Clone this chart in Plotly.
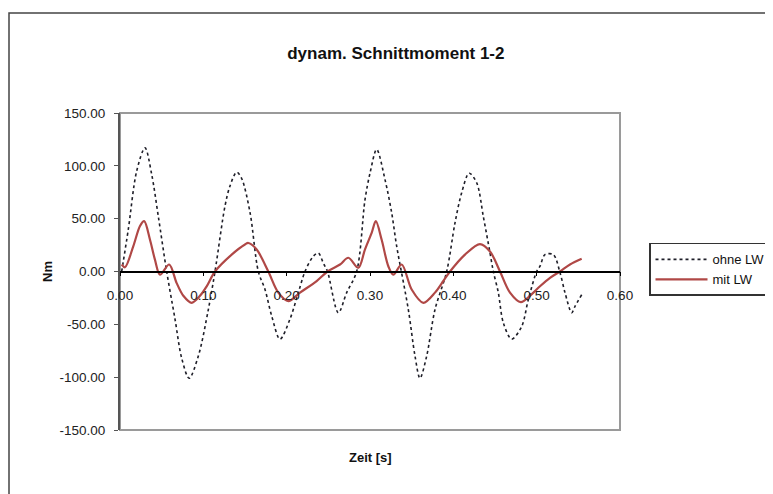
import plotly.graph_objects as go

# ---- data ----
t_ohne = [0.002, 0.010, 0.020, 0.030, 0.038, 0.046, 0.056, 0.066, 0.074, 0.083,
          0.094, 0.106, 0.114, 0.126, 0.132, 0.140, 0.146, 0.156, 0.166, 0.174,
          0.182, 0.192, 0.204, 0.214, 0.222, 0.232, 0.238, 0.244, 0.249, 0.262,
          0.272, 0.284, 0.294, 0.300, 0.308, 0.318, 0.326, 0.332, 0.346,
          0.354, 0.360, 0.368, 0.378, 0.392, 0.402, 0.410, 0.419, 0.428, 0.436,
          0.444, 0.448, 0.454, 0.460, 0.470, 0.482, 0.490, 0.500, 0.504, 0.510,
          0.520, 0.528, 0.534, 0.542, 0.546, 0.554]
ohne_lw = [0, 40, 95, 117, 92, 52, 0, -45, -82, -101,
           -80, -36, 0, 62, 81, 94, 88, 56, 0, -17,
           -42, -64, -45, -20, 0, 14.5, 17.5, 8, 0, -39,
           -20, 0, 68, 93, 115.5, 87, 55.6, 24, -36,
           -80, -101, -80, -36, 0, 46, 74.5, 93, 84, 52,
           17.7, 0, -20, -48.6, -64, -52, -26.5, 0, 5, 16,
           16, -1, -20, -39, -33, -22]

t_mit = [0.002, 0.006, 0.016, 0.024, 0.029, 0.036, 0.042, 0.048, 0.059, 0.068,
         0.076, 0.086, 0.096, 0.104, 0.114, 0.134, 0.150, 0.154, 0.164, 0.178,
         0.190, 0.202, 0.216, 0.236, 0.249, 0.264, 0.274, 0.286, 0.294, 0.302,
         0.307, 0.314, 0.322, 0.328, 0.338, 0.350, 0.364, 0.378, 0.388, 0.396,
         0.414, 0.432, 0.444, 0.456, 0.468, 0.481, 0.492, 0.504, 0.516, 0.528,
         0.540, 0.554]
mit_lw = [6.6, 4, 24, 43, 47.6, 30, 11, -3, 6.6, -11,
          -23, -29.6, -23, -14, 0, 16, 25.6, 27, 20.8, 0,
          -20, -28, -20, -9, 0, 6.6, 13, 3.5, 21, 36.6,
          47.6, 30, 5, -3, 6.6, -17, -29.6, -20, -9, 0,
          16, 26, 19, 0, -20, -29, -23, -14, -6, 0,
          6.6, 12]

x_tick_vals = [0.0, 0.1, 0.2, 0.3, 0.4, 0.5, 0.6]
x_tick_text = ["0.00", "0.10", "0.20", "0.30", "0.40", "0.50", "0.60"]
y_tick_vals = [150, 100, 50, 0, -50, -100, -150]
y_tick_text = ["150.00", "100.00", "50.00", "0.00", "-50.00", "-100.00", "-150.00"]

FONT = "Liberation Sans, Arial, sans-serif"

fig = go.Figure()
fig.add_trace(go.Scatter(
    x=t_ohne, y=ohne_lw, name="ohne LW", mode="lines",
    line=dict(color="#1e1e28", width=1.6, dash="dot", shape="spline", smoothing=0.9),
    legendgroup="a"))
fig.add_trace(go.Scatter(
    x=t_mit, y=mit_lw, name="mit LW", mode="lines",
    line=dict(color="#b04846", width=2.2, shape="spline", smoothing=0.9),
    legendgroup="b"))

fig.update_layout(
    width=765, height=486,
    margin=dict(l=112, r=153, t=105, b=64, autoexpand=False),
    paper_bgcolor="white", plot_bgcolor="white",
    font=dict(family=FONT, size=13, color="#222"),
    title=dict(text="<b>dynam. Schnittmoment 1-2</b>", x=0.507, xanchor="center",
               y=1 - 45 / 486, yanchor="middle",
               font=dict(family=FONT, size=17, color="#111")),
    xaxis=dict(range=[0, 0.6], tickvals=x_tick_vals, ticktext=x_tick_text,
               anchor="free", position=0.5, showline=True, linecolor="black",
               linewidth=1.5, ticks="outside", ticklen=4, tickcolor="black",
               tickwidth=1.2, showgrid=False, zeroline=False, automargin=False,
               ticklabelstandoff=8,
               tickfont=dict(family=FONT, size=13.5, color="#222")),
    xaxis2=dict(range=[0, 0.6], tickvals=x_tick_vals, overlaying="x",
                anchor="free", position=0.5, showline=False, ticks="inside",
                ticklen=4, tickcolor="black", tickwidth=1.2, automargin=False,
                showticklabels=False, showgrid=False, zeroline=False),
    yaxis=dict(range=[-150, 150], tickvals=y_tick_vals, ticktext=y_tick_text,
               showline=True, linecolor="#555", linewidth=2, ticks="outside",
               ticklen=4, tickcolor="#555", showgrid=False, zeroline=False,
               ticklabelstandoff=6, automargin=False,
               tickfont=dict(family=FONT, size=13.5, color="#222"),
               title=dict(text="<b>Nm</b>", standoff=4,
                          font=dict(family=FONT, size=13, color="#111"))),
    legend=dict(x=1.058, xanchor="left", y=0.59, yanchor="top",
                bgcolor="white", bordercolor="#333", borderwidth=1.5,
                font=dict(family=FONT, size=13, color="#111"),
                tracegroupgap=0, itemwidth=52),
    shapes=[
        dict(type="rect", xref="paper", yref="paper", x0=0, x1=1, y0=0, y1=1,
             line=dict(color="#9a9a9a", width=2), layer="below"),
        dict(type="rect", xref="paper", yref="paper", x0=-0.222, x1=1.5,
             y0=-0.4, y1=1.3155, line=dict(color="#444", width=1.5), layer="below"),
    ],
    annotations=[
        dict(text="<b>Zeit [s]</b>", xref="paper", yref="paper", x=0.5,
             y=-0.088, showarrow=False, xanchor="center", yanchor="middle",
             font=dict(family=FONT, size=13, color="#111")),
    ],
)

fig.write_html("out.html")
